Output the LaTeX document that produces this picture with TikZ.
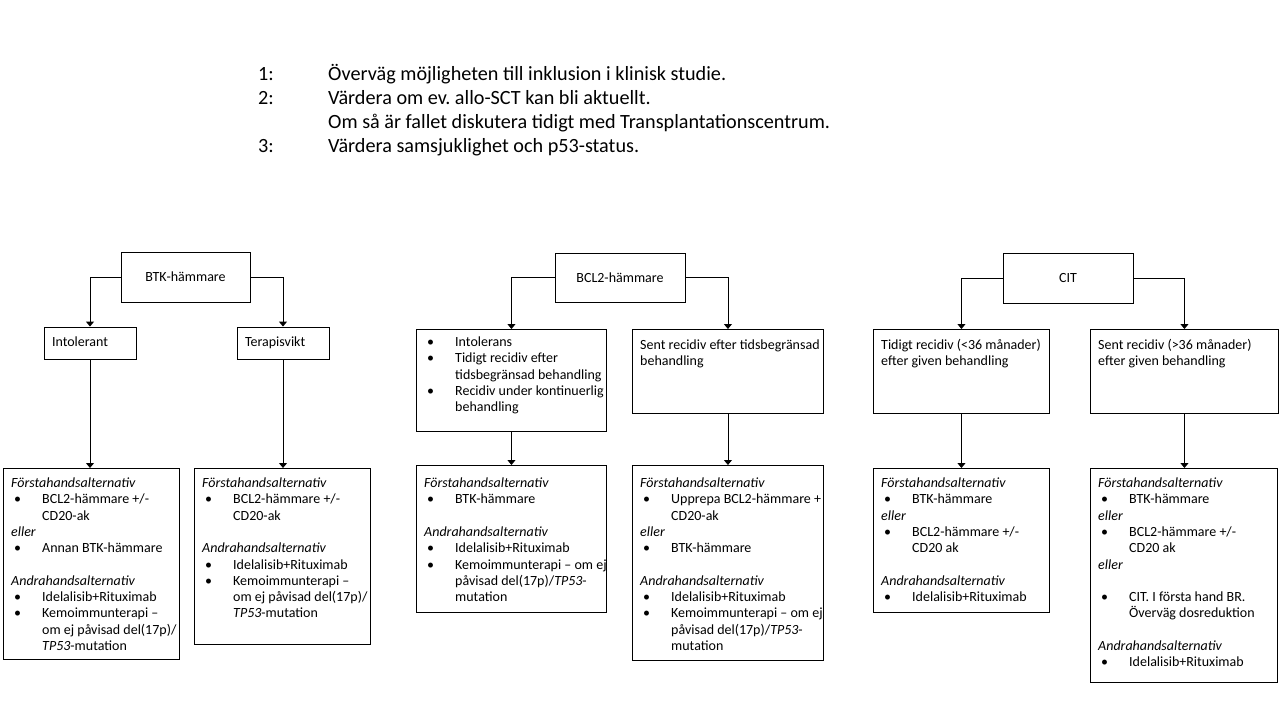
\documentclass[tikz,border=0pt]{standalone}
\usepackage{fontspec}
\setmainfont{Carlito}
\usetikzlibrary{arrows.meta}
\frenchspacing
\newcommand\bt[2]{\parbox[t]{#1}{\raggedright\fontsize{14}{16.3}\selectfont #2}}
\newcommand\bu{\makebox[31pt][l]{\hspace{3pt}•}}
\newcommand\hi{\hspace*{31pt}}
\newcommand\bl{\mbox{}}
\begin{document}
\begin{tikzpicture}[x=1pt,y=-1pt,
  box/.style={draw=black, line width=0.9pt, inner sep=0pt, fill=white},
  lbl/.style={font=\fontsize{14}{16.3}\selectfont},
  small/.style={box, lbl, align=left, inner xsep=8pt, inner ysep=0pt, text height=10pt, text depth=3pt},
  txt/.style={anchor=base west, inner sep=0pt},
  top/.style={anchor=base west, inner sep=0pt, font=\fontsize{20.2}{24}\selectfont},
  arr/.style={draw=black, line width=0.9pt, -{Triangle[width=8pt,length=5pt]}},
  ln/.style={draw=black, line width=0.9pt}]
\useasboundingbox (0,0) rectangle (1280,720);
\fill[white] (0,0) rectangle (1280,720);

% top notes
\node[top] (n1) at (258,80.5) {1:};
\node[top] (t1) at (328,80.5) {Överväg möjligheten till inklusion i klinisk studie.};
\node[top] (n2) at (258,104.5) {2:};
\node[top] (t2) at (328,104.5) {Värdera om ev. allo-SCT kan bli aktuellt.};
\node[top] (t2b) at (328,128.5) {Om så är fallet diskutera tidigt med Transplantationscentrum.};
\node[top] (n3) at (258,152.5) {3:};
\node[top] (t3) at (328,152.5) {Värdera samsjuklighet och p53-status.};

% level 1
\node[box, lbl, minimum width=129pt, minimum height=50pt] (btk) at (185.5,277) {BTK-hämmare};
\node[box, lbl, minimum width=130pt, minimum height=49pt] (bcl) at (620,277.5) {BCL2-hämmare};
\node[box, lbl, minimum width=130pt, minimum height=50pt] (cit) at (1068,278) {CIT};

% level 2
\node[small, text width=76pt, minimum height=32pt] (intol) at (90,343) {Intolerant};
\node[small, text width=76pt, minimum height=32pt] (terap) at (283,343) {Terapisvikt};
\node[box, anchor=north west, minimum width=190pt, minimum height=102pt] (b1) at (416,329) {};
\node[box, anchor=north west, minimum width=191pt, minimum height=84pt] (b2) at (632,329) {};
\node[box, anchor=north west, minimum width=176pt, minimum height=84pt] (c1) at (873,329) {};
\node[box, anchor=north west, minimum width=188pt, minimum height=84pt] (c2) at (1090,329) {};

\node[txt] (b1t) at (424,346.5) {\bt{180pt}{\bu Intolerans\\
\bu Tidigt recidiv efter\\
\hi tidsbegränsad behandling\\
\bu Recidiv under kontinuerlig\\
\hi behandling}};
\node[txt] (b2t) at (640,349.5) {\bt{180pt}{Sent recidiv efter tidsbegränsad\\ behandling}};
\node[txt] (c1t) at (881,349.5) {\bt{170pt}{Tidigt recidiv (<36 månader)\\ efter given behandling}};
\node[txt] (c2t) at (1098,349.5) {\bt{180pt}{Sent recidiv (>36 månader)\\ efter given behandling}};

% level 3
\node[box, anchor=north west, minimum width=176pt, minimum height=191pt] (a1) at (3,468) {};
\node[box, anchor=north west, minimum width=176pt, minimum height=176pt] (a2) at (194,468) {};
\node[box, anchor=north west, minimum width=190pt, minimum height=147pt] (b3) at (416,465) {};
\node[box, anchor=north west, minimum width=191pt, minimum height=195pt] (b4) at (632,465) {};
\node[box, anchor=north west, minimum width=176pt, minimum height=144pt] (c3) at (873,468) {};
\node[box, anchor=north west, minimum width=187pt, minimum height=214pt] (c4) at (1090,468) {};

\node[txt] (a1t) at (11,487.5) {\bt{170pt}{\textit{Förstahandsalternativ}\\
\bu BCL2-hämmare +/-\\
\hi CD20-ak\\
\textit{eller}\\
\bu Annan BTK-hämmare\\
\bl\\
\textit{Andrahandsalternativ}\\
\bu Idelalisib+Rituximab\\
\bu Kemoimmunterapi –\\
\hi om ej påvisad del(17p)/\\
\hi \textit{TP53}-mutation}};

\node[txt] (a2t) at (202,487.5) {\bt{170pt}{\textit{Förstahandsalternativ}\\
\bu BCL2-hämmare +/-\\
\hi CD20-ak\\
\bl\\
\textit{Andrahandsalternativ}\\
\bu Idelalisib+Rituximab\\
\bu Kemoimmunterapi –\\
\hi om ej påvisad del(17p)/\\
\hi \textit{TP53}-mutation}};

\node[txt] (b3t) at (424,487.5) {\bt{185pt}{\textit{Förstahandsalternativ}\\
\bu BTK-hämmare\\
\bl\\
\textit{Andrahandsalternativ}\\
\bu Idelalisib+Rituximab\\
\bu Kemoimmunterapi – om ej\\
\hi påvisad del(17p)/\textit{TP53}-\\
\hi mutation}};

\node[txt] (b4t) at (640,487.5) {\bt{185pt}{\textit{Förstahandsalternativ}\\
\bu Upprepa BCL2-hämmare +\\
\hi CD20-ak\\
\textit{eller}\\
\bu BTK-hämmare\\
\bl\\
\textit{Andrahandsalternativ}\\
\bu Idelalisib+Rituximab\\
\bu Kemoimmunterapi – om ej\\
\hi påvisad del(17p)/\textit{TP53}-\\
\hi mutation}};

\node[txt] (c3t) at (881,487.5) {\bt{170pt}{\textit{Förstahandsalternativ}\\
\bu BTK-hämmare\\
\textit{eller}\\
\bu BCL2-hämmare +/-\\
\hi CD20 ak\\
\bl\\
\textit{Andrahandsalternativ}\\
\bu Idelalisib+Rituximab}};

\node[txt] (c4t) at (1098,487.5) {\bt{180pt}{\textit{Förstahandsalternativ}\\
\bu BTK-hämmare\\
\textit{eller}\\
\bu BCL2-hämmare +/-\\
\hi CD20 ak\\
\textit{eller}\\
\bl\\
\bu CIT. I första hand BR.\\
\hi Överväg dosreduktion\\
\bl\\
\textit{Andrahandsalternativ}\\
\bu Idelalisib+Rituximab}};

% connectors
\draw[arr] (btk.west) -| (intol.north);
\draw[arr] (btk.east) -| (terap.north);
\draw[arr] (bcl.west) -| (b1.north);
\draw[arr] (bcl.east) -| (b2.north);
\draw[arr] (cit.west) -| (c1.north);
\draw[arr] (cit.east) -| (c2.north);
\draw[arr] (intol.south) -- (intol.south |- a1.north);
\draw[arr] (terap.south) -- (terap.south |- a2.north);
\draw[arr] (b1.south) -- (b1.south |- b3.north);
\draw[arr] (b2.south) -- (b2.south |- b4.north);
\draw[arr] (c1.south) -- (c1.south |- c3.north);
\draw[arr] (c2.south) -- (c2.south |- c4.north);
\end{tikzpicture}
\end{document}
